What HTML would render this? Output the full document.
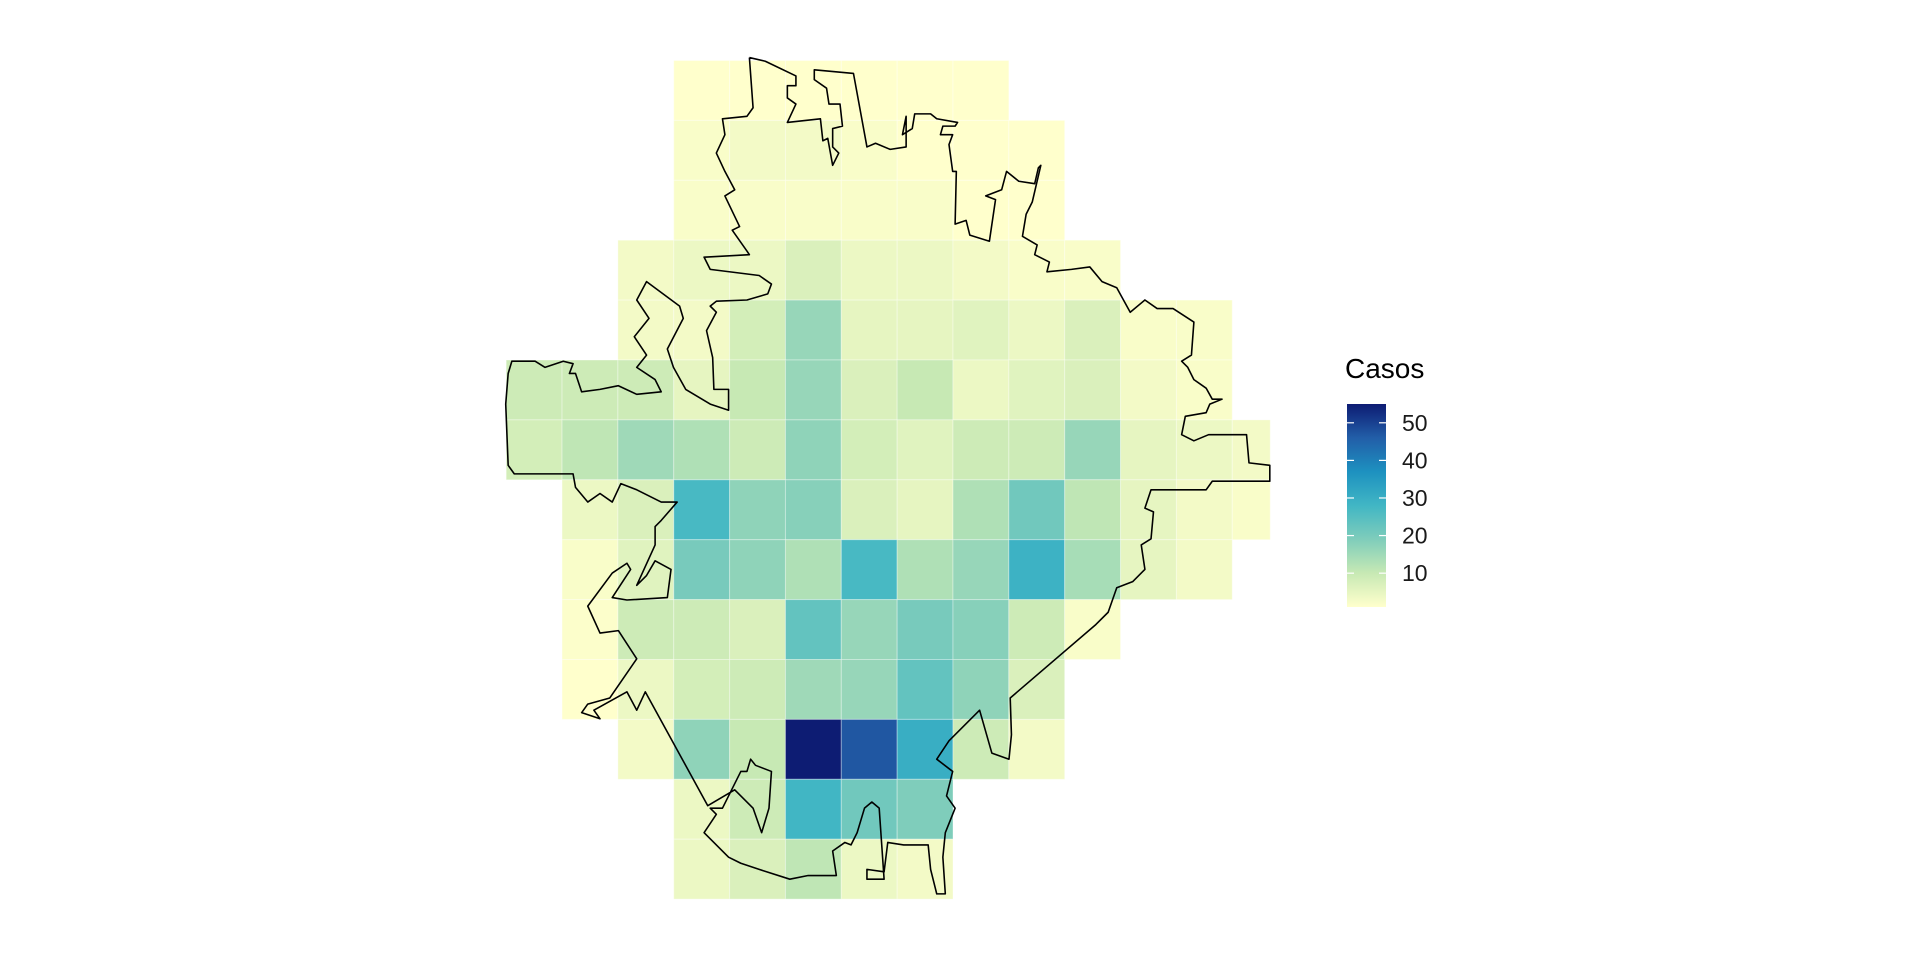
<!DOCTYPE html>
<html><head><meta charset="utf-8"><style>
html,body{margin:0;padding:0;background:#fff;}
svg{display:block;font-family:"Liberation Sans",Arial,sans-serif;}
</style></head><body>
<svg id="chart" width="1920" height="960" viewBox="0 0 1920 960">
<defs>
<linearGradient id="lg" x1="0" y1="1" x2="0" y2="0">
<stop offset="0" stop-color="#ffffcc"/><stop offset="0.1667" stop-color="#c7e9b4"/><stop offset="0.3333" stop-color="#7fcdbb"/><stop offset="0.5" stop-color="#41b6c4"/><stop offset="0.6667" stop-color="#1d91c0"/><stop offset="0.8333" stop-color="#225ea8"/><stop offset="1" stop-color="#0d1c73"/>
</linearGradient>
</defs>
<g id="cells"></g>
<g transform="scale(1.2245)">
<polyline id="outline" fill="none" stroke="#000" stroke-width="1.3" stroke-linejoin="round"/>
</g>
<g id="legend">
<text x="1345" y="378" font-size="28" fill="#000">Casos</text>
<rect x="1347" y="404" width="39" height="203" fill="url(#lg)"/>
</g>
</svg>
<script>
const rowStart = [3,3,3,2,2,0,0,1,1,1,1,2,3,3];
const rowValues = [
 [1,1,1,1,1,1],
 [2,3,3,2,1,1,1],
 [2,2,2,2,2,1,1],
 [3,4,4,7,4,4,3,2,2],
 [3,3,8,16,5,5,6,4,7,2,2],
 [9,9,9,5,10,16,7,10,4,6,7,3,2],
 [8,11,15,13,9,17,8,6,9,9,16,5,4,3],
 [4,7,27,17,18,7,5,13,21,11,5,3,2],
 [2,6,20,17,13,27,13,16,29,14,5,3],
 [1.5,9,9,7,23,16,20,18,9,2],
 [1,4,8,9,15,16,23,17,7],
 [3,17,10,55,47,30,9,3],
 [4,9,28,21,19],
 [4,7,11,4,3]
];
const legendTicks = [10,20,30,40,50];
const vmin = 1, vmax = 55;
const outlinePts = [612,47,625,50,650,62,650,70,643,70,643,80,650,85,643,100,670,97,672,115,676,113,680,135,685,125,680,120,680,105,688,103,686,85,677,85,675,72,665,65,665,57,697,60,708,120,715,117,727,122,740,120,740,95,737,110,745,105,747,93,760,93,765,97,782,100,780,103,770,103,768,110,778,110,775,118,778,140,781,140,780,183,789,180,792,192,808,197,813,163,805,160,818,155,822,140,832,148,845,150,848,137,850,135,843,165,838,175,835,193,847,200,845,208,857,214,855,222,875,220,890,218,900,230,912,235,923,255,935,245,945,252,958,252,975,263,973,290,965,295,970,300,975,310,985,317,990,326,998,326,988,330,985,337,968,340,965,355,975,360,987,355,1018,355,1020,378,1037,380,1037,393,1015,393,990,393,985,400,940,400,935,415,942,418,940,440,932,445,935,465,925,475,912,480,905,500,895,510,825,570,826,600,824,620,810,615,800,580,775,605,765,620,778,630,773,650,780,660,772,680,770,700,772,730,765,730,760,710,758,690,738,690,725,688,722,712,708,710,708,718,722,718,718,660,712,655,706,660,700,680,695,690,690,688,680,695,683,715,660,715,645,718,620,710,605,705,595,700,575,680,585,665,580,660,590,660,605,630,610,630,613,620,617,625,630,630,628,660,622,680,615,660,600,645,578,658,527,565,520,580,512,565,485,580,490,587,475,582,480,575,498,570,520,538,505,515,490,517,480,495,500,468,512,460,515,465,500,488,512,490,545,488,548,465,535,458,528,470,520,478,535,445,535,430,540,425,553,410,540,410,520,400,507,395,500,410,490,403,480,410,470,398,468,387,420,387,415,380,413,330,415,305,418,295,437,295,445,300,460,295,468,297,465,305,470,305,475,320,490,318,505,315,520,322,540,320,535,310,520,300,528,290,518,275,530,260,520,245,528,230,555,250,558,260,545,285,550,300,560,318,580,330,595,335,595,318,583,318,582,292,577,270,585,255,580,250,585,246,610,245,627,240,630,232,620,225,580,220,575,210,612,208,610,205,598,188,604,185,592,160,600,155,592,140,585,125,592,110,590,97,610,95,615,88,612,47];

const stops = ["#ffffcc","#c7e9b4","#7fcdbb","#41b6c4","#1d91c0","#225ea8","#0d1c73"];
function hex(h){return [1,3,5].map(i=>parseInt(h.substr(i,2),16));}
function color(v){
  let t=Math.max(0,Math.min(1,(v-vmin)/(vmax-vmin)))*(stops.length-1);
  let i=Math.min(Math.floor(t),stops.length-2), f=t-i;
  const a=hex(stops[i]), b=hex(stops[i+1]);
  return "rgb("+a.map((x,k)=>Math.round(x+(b[k]-x)*f)).join(",")+")";
}
const X0=506.2, CW=55.85, Y0=60.5, RH=59.9, LASTW=38;
function xOf(c){return X0+c*CW;}
function yOf(r){return Y0+r*RH;}
const NS="http://www.w3.org/2000/svg";
const cells=document.getElementById("cells");
rowValues.forEach((vals,r)=>{
  vals.forEach((v,i)=>{
    const c=rowStart[r]+i;
    const rect=document.createElementNS(NS,"rect");
    rect.setAttribute("x",xOf(c));
    rect.setAttribute("y",yOf(r));
    rect.setAttribute("width",c===13?LASTW:CW);
    rect.setAttribute("height",RH);
    rect.setAttribute("fill",color(v));
    rect.setAttribute("stroke","rgba(255,255,255,0.35)");
    rect.setAttribute("stroke-width","1");
    
    
    cells.appendChild(rect);
  });
});
let pts=[];for(let i=0;i<outlinePts.length;i+=2)pts.push(outlinePts[i]+","+outlinePts[i+1]);
document.getElementById("outline").setAttribute("points",pts.join(" "));
const lg=document.getElementById("legend");
const barTop=404, barBot=607;
function ly(v){return barBot-(v-vmin)/(vmax-vmin)*(barBot-barTop);}
legendTicks.forEach(t=>{
  const y=ly(t);
  [1347,1379].forEach(x=>{
    const l=document.createElementNS(NS,"line");
    l.setAttribute("x1",x);l.setAttribute("x2",x+7);l.setAttribute("y1",y);l.setAttribute("y2",y);
    l.setAttribute("stroke","#fff");l.setAttribute("stroke-width","1.2");
    
    
    lg.appendChild(l);
  });
  const tx=document.createElementNS(NS,"text");
  tx.setAttribute("x",1402);tx.setAttribute("y",y+8);
  tx.setAttribute("font-size","23");tx.setAttribute("fill","#1a1a1a");
  tx.textContent=t;
  
  
  lg.appendChild(tx);
});
</script>
</body></html>
